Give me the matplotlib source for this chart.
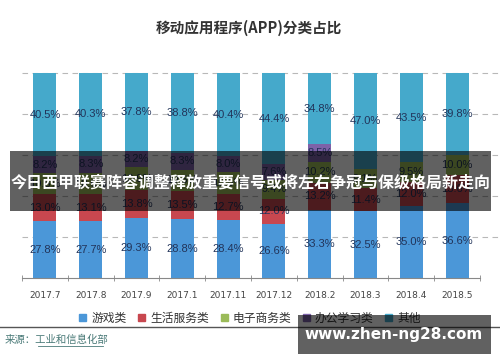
import numpy as np
import matplotlib
matplotlib.use('Agg')
import matplotlib.pyplot as plt
from matplotlib.patches import Patch, Rectangle
from matplotlib.lines import Line2D

plt.rcParams['font.family'] = ['Noto Sans CJK SC', 'DejaVu Sans']

# data
months = ['2017.7', '2017.8', '2017.9', '2017.1', '2017.11', '2017.12',
          '2018.2', '2018.3', '2018.4', '2018.5']
game = [27.8, 27.7, 29.3, 28.8, 28.4, 26.6, 33.3, 32.5, 35.0, 36.6]
life = [13.0, 13.1, 13.8, 13.5, 12.7, 12.0, 13.2, 11.4, 12.0, 13.6]
ecom = [10.5, 10.6, 10.9, 10.6, 10.5, 9.4, 10.2, 9.1, 9.5, 10.0]
office = [8.2, 8.3, 8.2, 8.3, 8.0, 7.6, 8.5, 0.0, 0.0, 0.0]
other = [40.5, 40.3, 37.8, 38.8, 40.4, 44.4, 34.8, 47.0, 43.5, 39.8]

names = ['游戏类', '生活服务类', '电子商务类', '办公学习类', '其他']
colors = ['#4b97d8', '#c8474f', '#9bbb59', '#7d62a8', '#45a9cb']
series = [game, life, ecom, office, other]

fig = plt.figure(figsize=(5, 3.62), dpi=100)
ax = fig.add_axes([0.044, 0.232, 0.916, 0.566])

x = np.arange(len(months))
bottom = np.zeros(len(months))
for vals, c in zip(series, colors):
    vals = np.array(vals)
    ax.bar(x, vals, 0.5, bottom=bottom, color=c, zorder=2)
    for xi, b, v in zip(x, bottom, vals):
        if v > 0:
            ax.text(xi, b + v / 2, '%.1f%%' % v, ha='center', va='center',
                    fontsize=8, color='#22345a', family='Liberation Sans', zorder=3)
    bottom += vals

ax.set_xlim(-0.5, 9.5)
ax.set_ylim(0, 100)
for g in [20, 40, 60, 80, 100]:
    ax.axhline(g, xmin=0, xmax=1.04, color='#b8b8b8', lw=0.8, ls=(0, (5, 4)),
               zorder=1, clip_on=False)

for s in ['top', 'right', 'left']:
    ax.spines[s].set_visible(False)
ax.spines['bottom'].set_color('#888888')
ax.set_yticks([])
ax.set_xticks(x)
ax.set_xticklabels(months, fontsize=6.5, color='#444444', family='DejaVu Sans')
ax.tick_params(axis='x', length=0, pad=9)
ax.set_xticks(np.arange(-0.5, 10, 1), minor=True)
ax.tick_params(axis='x', which='minor', length=4, color='#888888', direction='inout')

fig.text(0.498, 0.922, '移动应用程序(APP)分类占比', ha='center', va='center',
         fontsize=10.5, fontweight='bold', color='#333333')

handles = [Patch(color=c) for c in colors]
fig.legend(handles, names, loc='center', bbox_to_anchor=(0.5, 0.121), ncol=5,
           frameon=False, fontsize=8.5, handlelength=0.6, handleheight=0.6,
           handletextpad=0.4, columnspacing=1.0, labelcolor='#333333')

fig.add_artist(Line2D([0, 1], [1 - 327 / 362] * 2, color='#555555', lw=1,
                      transform=fig.transFigure))
fig.text(0.01, 1 - 340 / 362, '来源：工业和信息化部', ha='left', va='center',
         fontsize=7.5, color='#4a7a78')
fig.add_artist(Line2D([0.075, 0.205], [1 - 346 / 362] * 2, color='#4a7a78', lw=0.6,
                      transform=fig.transFigure))

# overlay banner
fig.add_artist(Rectangle((10 / 500, 1 - 211 / 362), 481 / 500, 60 / 362,
                         transform=fig.transFigure, color='black', alpha=0.62,
                         lw=0, zorder=10))
fig.text(0.502, 1 - 183 / 362, '今日西甲联赛阵容调整释放重要信号或将左右争冠与保级格局新走向',
         ha='center', va='center', fontsize=11.5, fontweight='bold', color='white',
         zorder=11)

# watermark box
fig.add_artist(Rectangle((298 / 500, 1 - 354 / 362), 193 / 500, 39 / 362,
                         transform=fig.transFigure, color='black', alpha=0.62,
                         lw=0, zorder=10))
fig.text(394 / 500, 1 - 335 / 362, 'www.zhen-ng28.com', ha='center', va='center',
         fontsize=11, fontweight='bold', color='white', family='DejaVu Sans',
         zorder=11)

fig.savefig('out.png', dpi=100)
